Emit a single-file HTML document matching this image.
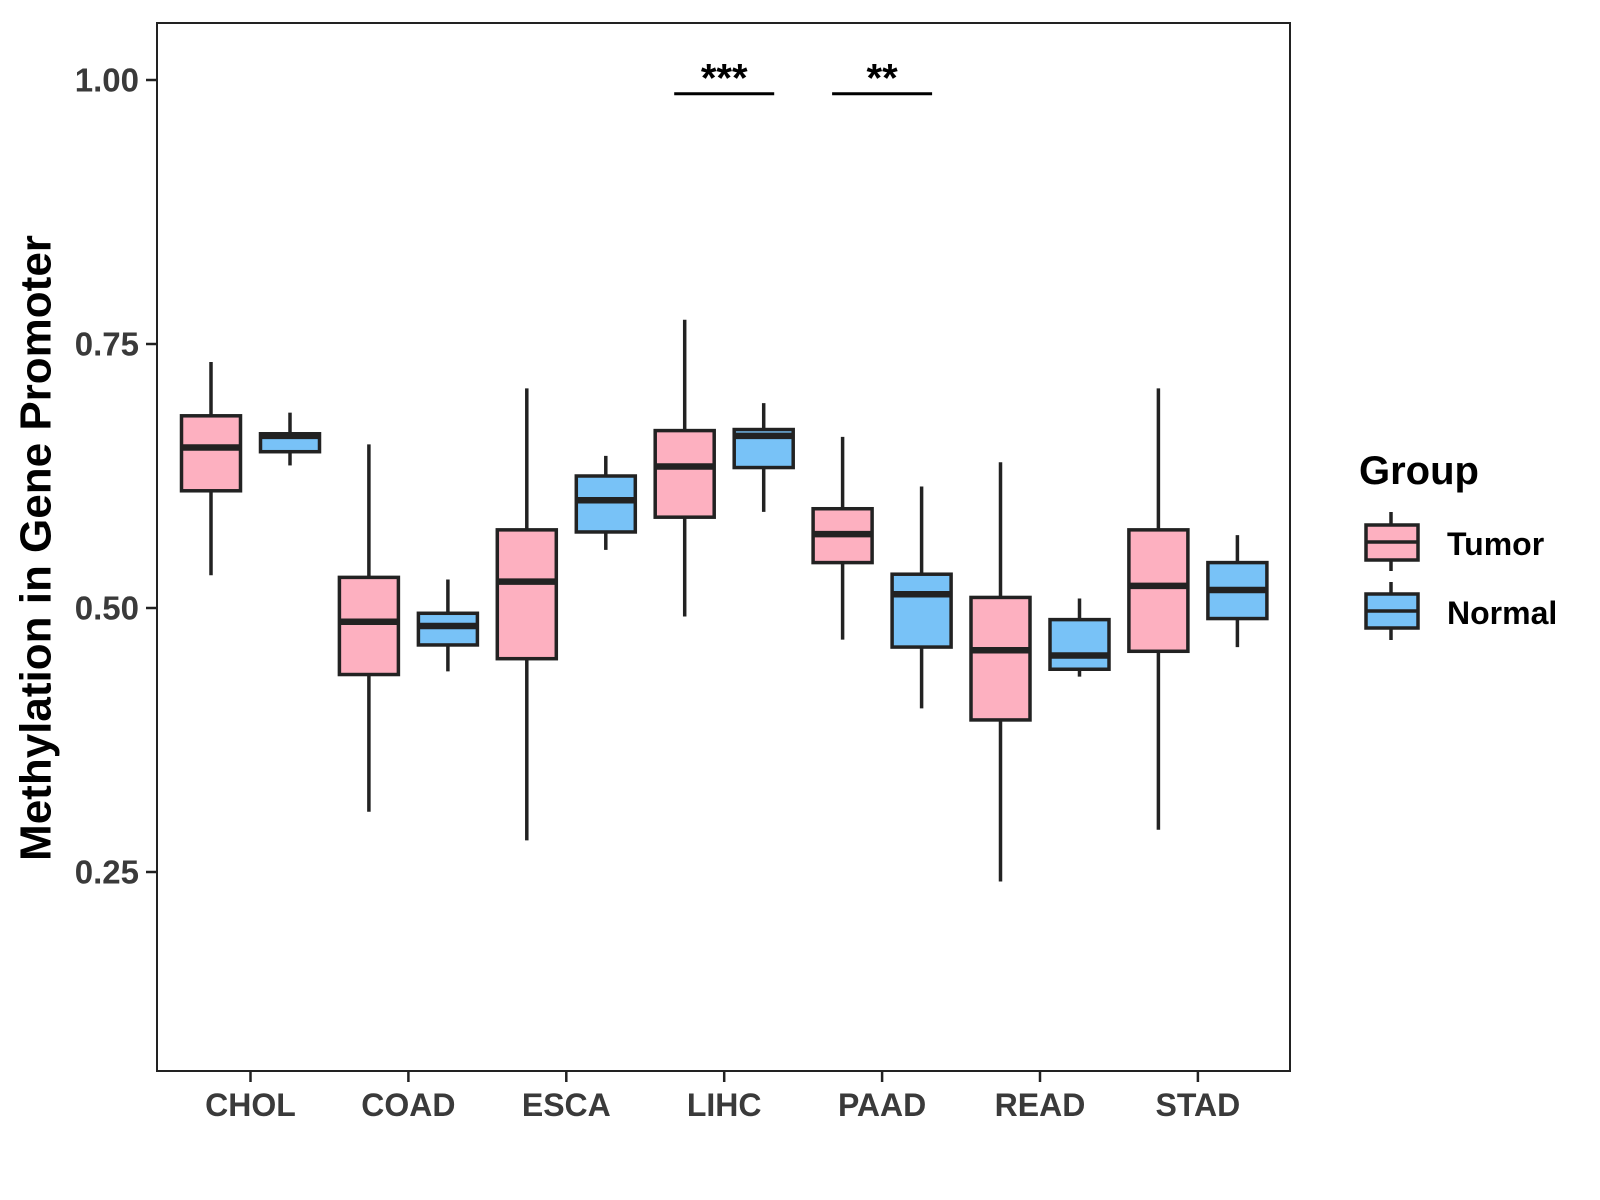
<!DOCTYPE html>
<html><head><meta charset="utf-8"><style>
html,body{margin:0;padding:0;background:#fff;}
svg{display:block;font-family:"Liberation Sans",Arial,sans-serif;}
</style></head><body>
<svg id="chart" width="1600" height="1200" viewBox="0 0 1600 1200">
<rect x="157" y="23" width="1133" height="1048" fill="#fff" stroke="#222" stroke-width="2"/>
<g id="boxes"></g>
<g id="yaxis"></g>
<g id="xaxis"></g>
<g id="sig"></g>
<text x="39" y="548" transform="rotate(-90 39 548)" text-anchor="middle" dominant-baseline="middle" font-size="44" font-weight="bold" fill="#000">Methylation in Gene Promoter</text>
<g>
<text x="1359" y="484" font-size="40" font-weight="bold" fill="#000">Group</text>
<g>
<line x1="1391" x2="1391" y1="512" y2="571" stroke="#222" stroke-width="3.5"/>
<rect x="1366" y="525" width="52" height="35" fill="#FDB0C0" stroke="#222" stroke-width="3.5"/>
<line x1="1366" x2="1418" y1="542" y2="542" stroke="#222" stroke-width="3.5"/>
<text x="1447" y="555" font-size="32" font-weight="bold" fill="#000">Tumor</text>
</g>
<g>
<line x1="1391" x2="1391" y1="582" y2="640" stroke="#222" stroke-width="3.5"/>
<rect x="1366" y="594" width="52" height="34" fill="#78C2F7" stroke="#222" stroke-width="3.5"/>
<line x1="1366" x2="1418" y1="611" y2="611" stroke="#222" stroke-width="3.5"/>
<text x="1447" y="624" font-size="32" font-weight="bold" fill="#000">Normal</text>
</g>
</g>
</svg>
<script>
const categories = ["CHOL","COAD","ESCA","LIHC","PAAD","READ","STAD"];
// [lowerWhisker, q1, median, q3, upperWhisker]
const tumorStats = [
 [0.531,0.611,0.652,0.682,0.733],
 [0.307,0.437,0.487,0.529,0.655],
 [0.280,0.452,0.525,0.574,0.708],
 [0.492,0.586,0.634,0.668,0.773],
 [0.470,0.543,0.570,0.594,0.662],
 [0.241,0.394,0.460,0.510,0.638],
 [0.290,0.459,0.521,0.574,0.708]
];
const normalStats = [
 [0.635,0.648,0.663,0.665,0.685],
 [0.440,0.465,0.483,0.495,0.527],
 [0.555,0.572,0.602,0.625,0.644],
 [0.591,0.633,0.663,0.669,0.694],
 [0.405,0.463,0.513,0.532,0.615],
 [0.435,0.442,0.455,0.489,0.509],
 [0.463,0.490,0.517,0.543,0.569]
];
const yTicks = [0.25,0.50,0.75,1.00];
const yTickLabels = ["0.25","0.50","0.75","1.00"];
const sigCategories = ["LIHC","PAAD"];
const sigLabels = ["***","**"];
const sigLevel = 0.987;

const NS="http://www.w3.org/2000/svg";
function y(v){ return 80 + (1 - v) * (792/0.75); }
function x(i){ return 250.5 + i * 157.9; }
function mk(tag, attrs, parent){ const e=document.createElementNS(NS,tag); for(const k in attrs) e.setAttribute(k,attrs[k]); parent.appendChild(e); return e; }

const boxes=document.getElementById('boxes');
function drawBox(s, cx, fill, name){
  const g=mk('g',{},boxes);
  
  
  const w=59;
  mk('line',{x1:cx,x2:cx,y1:y(s[4]),y2:y(s[0]),stroke:'#222','stroke-width':3.5},g);
  mk('rect',{x:cx-w/2,y:y(s[3]),width:w,height:y(s[1])-y(s[3]),fill:fill,stroke:'#222','stroke-width':3.5},g);
  mk('line',{x1:cx-w/2,x2:cx+w/2,y1:y(s[2]),y2:y(s[2]),stroke:'#222','stroke-width':6.5},g);
}
categories.forEach((c,i)=>{
  drawBox(tumorStats[i], x(i)-39.5, '#FDB0C0', 'box-tumor-'+c.toLowerCase());
  drawBox(normalStats[i], x(i)+39.5, '#78C2F7', 'box-normal-'+c.toLowerCase());
});

const ya=document.getElementById('yaxis');
yTicks.forEach((v,i)=>{
  mk('line',{x1:146,x2:157,y1:y(v),y2:y(v),stroke:'#222','stroke-width':2.5},ya);
  const t=mk('text',{x:139,y:y(v),'text-anchor':'end','dominant-baseline':'central','font-size':33,'font-weight':'bold',fill:'#3a3a3a'},ya);
  
  
  t.textContent=yTickLabels[i];
});
const xa=document.getElementById('xaxis');
categories.forEach((c,i)=>{
  mk('line',{x1:x(i),x2:x(i),y1:1071,y2:1082,stroke:'#222','stroke-width':2.5},xa);
  const t=mk('text',{x:x(i),y:1116,'text-anchor':'middle','font-size':32,'font-weight':'bold',fill:'#3a3a3a'},xa);
  
  
  t.textContent=c;
});
const sg=document.getElementById('sig');
sigCategories.forEach((c,k)=>{
  const i=categories.indexOf(c);
  const l=mk('line',{x1:x(i)-50,x2:x(i)+50,y1:y(sigLevel),y2:y(sigLevel),stroke:'#000','stroke-width':3},sg);
  
  
  const t=mk('text',{x:x(i),y:y(sigLevel)-2,'text-anchor':'middle','font-size':40,'font-weight':'bold',fill:'#000'},sg);
  
  
  t.textContent=sigLabels[k];
});
</script>
</body></html>
